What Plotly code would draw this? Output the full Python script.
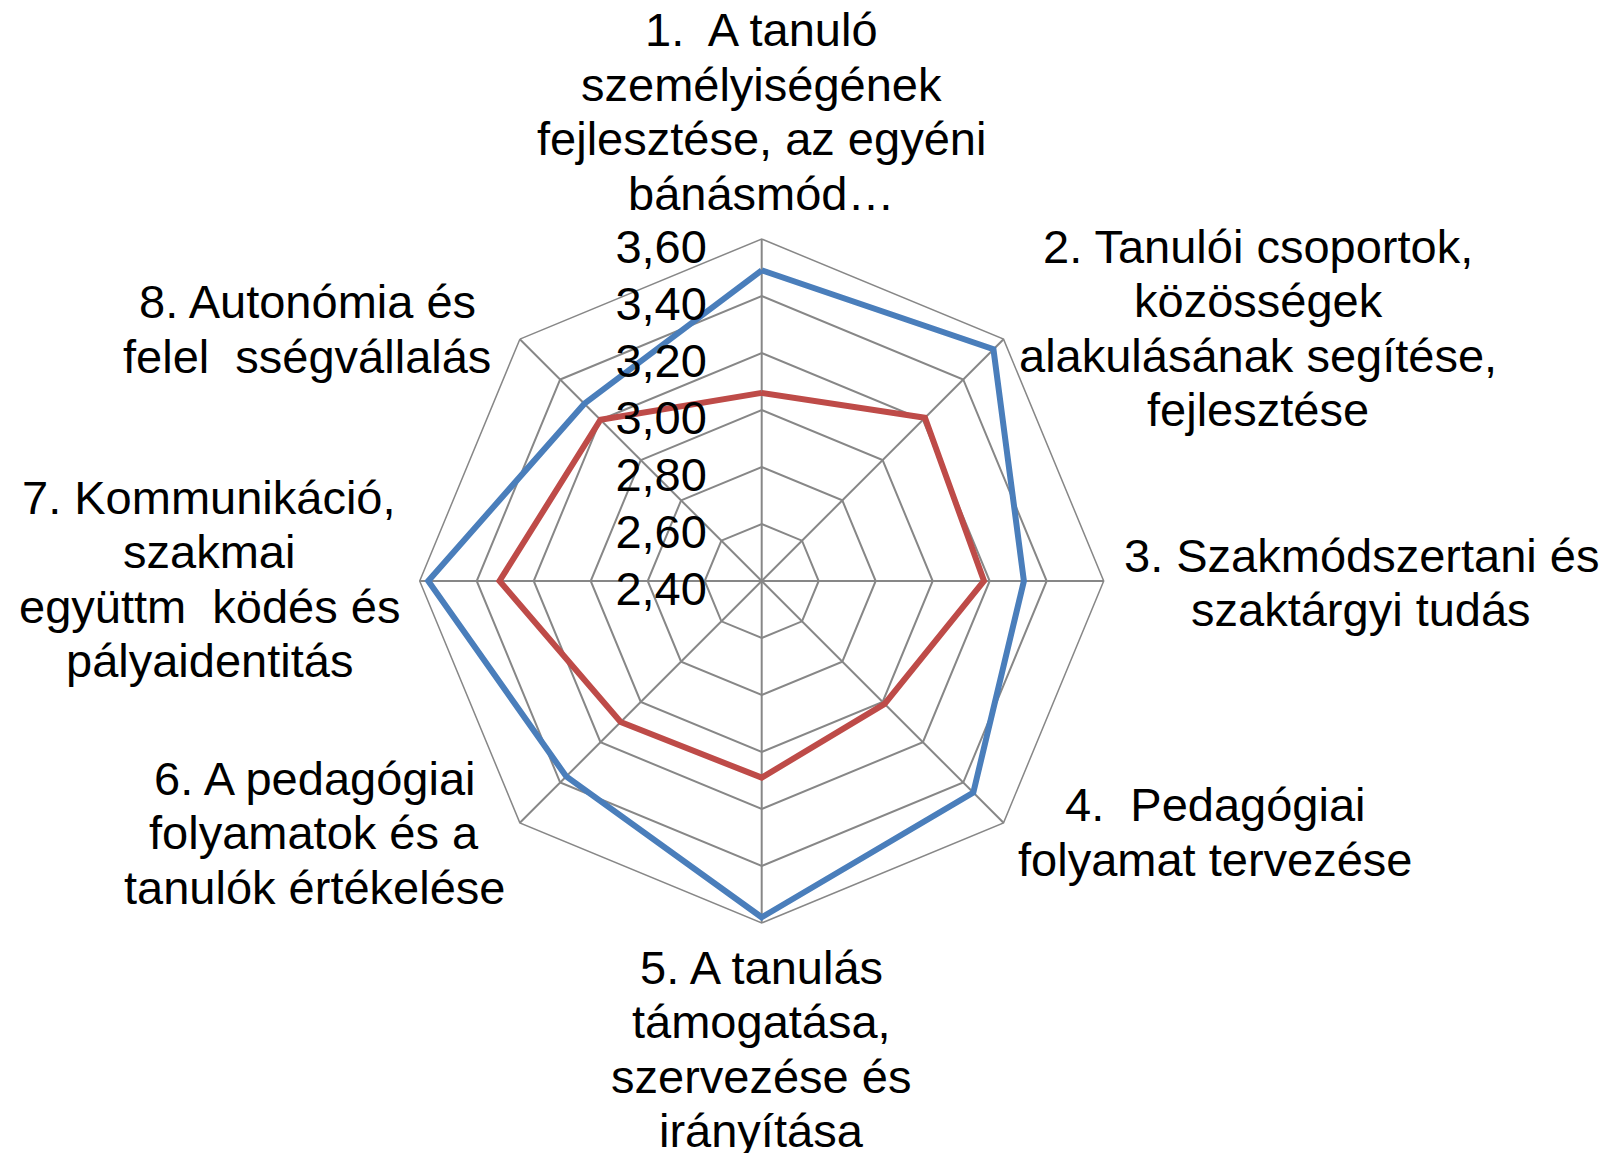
import plotly.graph_objects as go

# Competence areas (axis order, clockwise from the top)
categories = [
    "1. A tanuló személyiségének fejlesztése, az egyéni bánásmód…",
    "2. Tanulói csoportok, közösségek alakulásának segítése, fejlesztése",
    "3. Szakmódszertani és szaktárgyi tudás",
    "4. Pedagógiai folyamat tervezése",
    "5. A tanulás támogatása, szervezése és irányítása",
    "6. A pedagógiai folyamatok és a tanulók értékelése",
    "7. Kommunikáció, szakmai együttműködés és pályaidentitás",
    "8. Autonómia és felelősségvállalás",
]

# Wrapped label lines as displayed around the chart
label_lines = [
    ["1.\u00a0 A tanuló", "személyiségének", "fejlesztése, az egyéni", "bánásmód…"],
    ["2. Tanulói csoportok,", "közösségek", "alakulásának segítése,", "fejlesztése"],
    ["3. Szakmódszertani és", "szaktárgyi tudás"],
    ["4.\u00a0 Pedagógiai", "folyamat tervezése"],
    ["5. A tanulás", "támogatása,", "szervezése és", "irányítása"],
    ["6. A pedagógiai", "folyamatok és a", "tanulók értékelése"],
    ["7. Kommunikáció,", "szakmai", "együttm\u00a0 ködés és", "pályaidentitás"],
    ["8. Autonómia és", "felel\u00a0 sségvállalás"],
]

series_blue = [3.49, 3.55, 3.32, 3.45, 3.58, 3.37, 3.57, 3.28]
series_red = [3.06, 3.21, 3.18, 3.01, 3.09, 3.10, 3.32, 3.20]

radial_ticks = [2.40, 2.60, 2.80, 3.00, 3.20, 3.40, 3.60]

W, H = 1623, 1153
FONT = "Liberation Sans, Arial, sans-serif"
FS = 47
GRID = "#878787"

# Label block placement: (center x px, first-line y px)
label_pos = [
    (761, 30), (1258, 246), (1361, 555), (1215, 805),
    (761, 967), (314, 778), (209, 497), (307, 302),
]
LINE_PITCH = 54.5


def closed(v):
    return list(v) + [v[0]]


fig = go.Figure()
fig.add_trace(go.Scatterpolar(
    r=closed(series_red), theta=closed(categories), mode="lines",
    line=dict(color="#BE4B48", width=6), showlegend=False,
))
fig.add_trace(go.Scatterpolar(
    r=closed(series_blue), theta=closed(categories), mode="lines",
    line=dict(color="#4A7EBB", width=6), showlegend=False,
))

# Polar area: center (761.7, 581) px, radius 342 px
cx, cy, rad = 761.7, 581.0, 342.0
fig.update_layout(
    width=W, height=H,
    margin=dict(l=0, r=0, t=0, b=0),
    paper_bgcolor="white",
    separators=", ",
    font=dict(family=FONT, size=FS, color="black"),
    showlegend=False,
    polar=dict(
        domain=dict(x=[(cx - rad) / W, (cx + rad) / W],
                    y=[(H - cy - rad) / H, (H - cy + rad) / H]),
        bgcolor="white",
        gridshape="linear",
        radialaxis=dict(
            range=[radial_ticks[0], radial_ticks[-1]],
            tickvals=radial_ticks,
            tickformat=".2f",
            angle=90,
            side="counterclockwise",
            ticks="outside", ticklen=12, tickcolor="rgba(0,0,0,0)",
            showline=False,
            gridcolor=GRID, gridwidth=1.5,
            tickfont=dict(family=FONT, size=FS, color="black"),
        ),
        angularaxis=dict(
            direction="clockwise", rotation=90,
            showticklabels=False, ticks="",
            gridcolor=GRID, gridwidth=1.5,
            linecolor=GRID, linewidth=1.5, showline=True,
        ),
    ),
)

for lines, (x, y0) in zip(label_lines, label_pos):
    for i, txt in enumerate(lines):
        fig.add_annotation(
            x=x / W, y=1 - (y0 + i * LINE_PITCH) / H,
            xref="paper", yref="paper",
            text=txt, showarrow=False,
            xanchor="center", yanchor="middle",
            font=dict(family=FONT, size=FS, color="black"),
        )

fig.write_html("out.html")
